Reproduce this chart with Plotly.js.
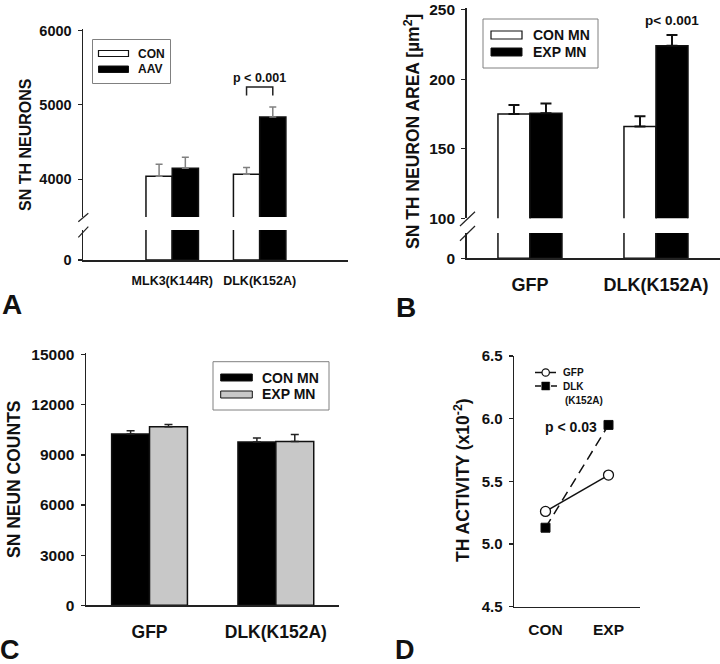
<!DOCTYPE html>
<html>
<head>
<meta charset="utf-8">
<script src="https://cdn.plot.ly/plotly-3.0.1.min.js"></script>
<style>html,body{margin:0;padding:0;background:#fff;}#chart{width:720px;height:664px;}</style>
</head>
<body>
<div id="chart"></div>
<script>
// ---------- DATA ----------
// Panel A
const A_groups = ['MLK3(K144R)', 'DLK(K152A)'];
const A_con = [4040, 4065];
const A_con_err = [160, 90];
const A_aav = [4145, 4835];
const A_aav_err = [150, 135];
const A_yticks = [0, 4000, 5000, 6000];
// Panel B
const B_groups = ['GFP', 'DLK(K152A)'];
const B_con = [175, 166];
const B_con_err = [6.5, 7.3];
const B_exp = [175.5, 224];
const B_exp_err = [7, 7.8];
const B_yticks = [0, 100, 150, 200, 250];
// Panel C
const C_groups = ['GFP', 'DLK(K152A)'];
const C_con = [10250, 9770];
const C_con_err = [200, 250];
const C_exp = [10680, 9800];
const C_exp_err = [140, 420];
const C_yticks = [0, 3000, 6000, 9000, 12000, 15000];
// Panel D
const D_groups = ['CON', 'EXP'];
const D_gfp = [5.26, 5.55];
const D_dlk = [5.13, 5.95];
const D_yticks = [4.5, 5.0, 5.5, 6.0, 6.5];

// ---------- HELPERS ----------
const W = 720, H = 664;
const px = x => x / W;
const py = y => 1 - y / H;
const FAM = 'Liberation Sans, Arial, Helvetica, sans-serif';
const INK = '#111111';
const AX = '#222222';
const f = (size) => ({family: FAM, size: size, color: INK, weight: 'bold'});
const zeros = n => new Array(n).fill(0);

function yAxis(domain, range, tickvals, size, extra) {
  return Object.assign({
    domain: domain, range: range, tickvals: tickvals,
    ticktext: tickvals.map(v => String(v)),
    showline: true, linecolor: AX, linewidth: 1.5,
    ticks: 'outside', ticklen: 4, tickwidth: 1.2, tickcolor: AX,
    showgrid: false, zeroline: false, tickfont: f(size),
    fixedrange: true, ticklabelstandoff: 3, ticklabeloverflow: 'allow'
  }, extra || {});
}
function xAxis(domain, range, size, anchor, standoff) {
  return {
    domain: domain, range: range, type: 'category', anchor: anchor,
    showline: true, linecolor: AX, linewidth: 1.5, ticks: '',
    showgrid: false, zeroline: false, tickfont: f(size),
    fixedrange: true, ticklabelstandoff: standoff, ticklabeloverflow: 'allow'
  };
}
function bar(x, y, err, xa, ya, color, off, w, errColor, errThick, errW, showErr) {
  return {
    type: 'bar', x: x, y: y, xaxis: xa, yaxis: ya,
    offset: off, width: w, showlegend: false, hoverinfo: 'skip',
    marker: {color: color, line: {color: INK, width: 1.5}},
    error_y: {type: 'data', symmetric: false, array: err, arrayminus: zeros(err.length),
      visible: showErr, color: errColor, thickness: errThick, width: errW}
  };
}

const data = [];
// Panel A (broken axis: lower y, upper y2)
const wA = 0.3;
['y', 'y2'].forEach(ya => {
  const up = ya === 'y2';
  data.push(bar(A_groups, A_con, A_con_err, 'x', ya, '#ffffff', -wA, wA, '#808080', 1.5, 3.5, up));
  data.push(bar(A_groups, A_aav, A_aav_err, 'x', ya, '#000000', 0, wA, '#808080', 1.5, 3.5, up));
});
// Panel B (lower y3, upper y4)
const wB = 0.254;
['y3', 'y4'].forEach(ya => {
  const up = ya === 'y4';
  data.push(bar(B_groups, B_con, B_con_err, 'x2', ya, '#ffffff', -wB, wB, '#111111', 2, 5.5, up));
  data.push(bar(B_groups, B_exp, B_exp_err, 'x2', ya, '#000000', 0, wB, '#111111', 2, 5.5, up));
});
// Panel C
const wC = 0.3;
data.push(bar(C_groups, C_con, C_con_err, 'x3', 'y5', '#000000', -wC, wC, '#222222', 1.5, 4, true));
data.push(bar(C_groups, C_exp, C_exp_err, 'x3', 'y5', '#c8c8c8', 0, wC, '#222222', 1.5, 4, true));
// Panel D
data.push({type: 'scatter', mode: 'lines+markers', x: D_groups, y: D_gfp, xaxis: 'x4', yaxis: 'y6',
  showlegend: false, hoverinfo: 'skip', cliponaxis: false,
  line: {color: INK, width: 1.5},
  marker: {symbol: 'circle', size: 10, color: '#ffffff', line: {color: INK, width: 1.3}}});
data.push({type: 'scatter', mode: 'lines+markers', x: D_groups, y: D_dlk, xaxis: 'x4', yaxis: 'y6',
  showlegend: false, hoverinfo: 'skip', cliponaxis: false,
  line: {color: INK, width: 1.5, dash: '10px,6px'},
  marker: {symbol: 'square', size: 9, color: '#000000', line: {color: INK, width: 1}}});

// ---------- SHAPES (axis breaks, brackets, legends) ----------
const shapes = [];
const pl = (x0, y0, x1, y1, extra) => shapes.push(Object.assign({type: 'line', xref: 'paper', yref: 'paper',
  x0: px(x0), y0: py(y0), x1: px(x1), y1: py(y1), line: {color: AX, width: 1.2}}, extra || {}));
const pr = (x0, y0, x1, y1, fill, lc, lw) => shapes.push({type: 'rect', xref: 'paper', yref: 'paper',
  x0: px(x0), y0: py(y0), x1: px(x1), y1: py(y1), fillcolor: fill, line: {color: lc, width: lw}});
// axis break marks
pl(78.3, 221.7, 88.3, 213.3); pl(78.3, 237.3, 88.3, 226.7);
pl(460, 226, 475, 211.7); pl(460, 240.7, 475, 226);
// significance bracket A
shapes.push({type: 'path', xref: 'x', yref: 'y2', path: 'M0.85,5125 L0.85,5238 L1.15,5238 L1.15,5125',
  line: {color: AX, width: 1.5}});
// legend A
pr(92.5, 39.5, 170.5, 83.5, 'rgba(0,0,0,0)', '#808080', 1);
pr(98.5, 50.5, 128.5, 56.5, '#ffffff', INK, 1.2);
pr(98.5, 66, 128.5, 72.5, '#000000', INK, 1);
// legend B
pr(483, 19, 598, 68, 'rgba(0,0,0,0)', '#808080', 1);
pr(491, 31, 522, 39, '#ffffff', INK, 1.2);
pr(491, 48, 522, 56, '#000000', INK, 1);
// legend C
pr(213, 361.7, 329, 410, 'rgba(0,0,0,0)', '#808080', 1);
pr(220.7, 374, 252.3, 381, '#000000', INK, 1);
pr(220.7, 391, 252.3, 398, '#c8c8c8', INK, 1);
// legend D
pl(535, 372.5, 556, 372.5, {line: {color: INK, width: 1.5}});
shapes.push({type: 'circle', xref: 'paper', yref: 'paper', x0: px(542), x1: px(549.4), y0: py(376.2), y1: py(368.8),
  fillcolor: '#ffffff', line: {color: INK, width: 1.2}});
pl(535, 386, 541, 386, {line: {color: INK, width: 1.5}});
pl(551, 386, 557, 386, {line: {color: INK, width: 1.5}});
pr(541.7, 382, 549.7, 390, '#000000', INK, 0.5);

// ---------- ANNOTATIONS ----------
const ann = [];
const pt = (text, x, y, size, extra) => ann.push(Object.assign({text: text, xref: 'paper', yref: 'paper',
  x: px(x), y: py(y), showarrow: false, font: f(size), xanchor: 'center', yanchor: 'middle'}, extra || {}));
// panel letters
pt('A', 11.7, 305, 28); pt('B', 405.5, 307.5, 28); pt('C', 10, 650, 27); pt('D', 405, 650, 27);
// y-axis titles
pt('SN TH NEURONS', 25, 145, 16, {textangle: -90});
pt('SN TH NEURON AREA [µm<sup>2</sup>]', 412, 132, 17.5, {textangle: -90});
pt('SN NEUN COUNTS', 14, 479, 17.5, {textangle: -90});
pt('TH ACTIVITY (x10<sup>-2</sup>)', 462, 480, 17.5, {textangle: -90});
// legend texts
pt('CON', 136, 53.5, 12, {xanchor: 'left'}); pt('AAV', 136, 69.5, 12, {xanchor: 'left'});
pt('CON MN', 531, 35, 14, {xanchor: 'left'}); pt('EXP MN', 531, 52, 14, {xanchor: 'left'});
pt('CON MN', 260, 377.5, 14, {xanchor: 'left'}); pt('EXP MN', 260, 394.5, 14, {xanchor: 'left'});
pt('GFP', 561, 372.5, 10, {xanchor: 'left'}); pt('DLK', 561, 386, 10, {xanchor: 'left'});
pt('(K152A)', 563, 400.5, 10, {xanchor: 'left'});
// p-values (data coordinates)
ann.push({text: 'p < 0.001', xref: 'x', yref: 'y2', x: 1, y: 5359, showarrow: false, font: f(12.5)});
ann.push({text: 'p< 0.001', xref: 'x2', yref: 'y4', x: 1.127, y: 241.9, showarrow: false, font: f(13.5)});
ann.push({text: 'p < 0.03', xref: 'x4', yref: 'y6', x: 0.403, y: 5.936, showarrow: false, font: f(14)});

// ---------- LAYOUT ----------
const layout = {
  width: W, height: H, margin: {l: 0, r: 0, t: 0, b: 0, pad: 0},
  paper_bgcolor: '#ffffff', plot_bgcolor: 'rgba(0,0,0,0)',
  font: {family: FAM, color: INK, weight: 'bold'},
  barmode: 'overlay', showlegend: false,
  // A
  xaxis: xAxis([px(83), px(348)], [-1.02, 2.01], 12.5, 'y', 8),
  yaxis: yAxis([py(260), py(230)], [0, 400], A_yticks.slice(0, 1), 14.5, {anchor: 'x'}),
  yaxis2: yAxis([py(217), py(29)], [3490, 6020], A_yticks.slice(1), 14.5, {anchor: 'x'}),
  // B
  xaxis2: xAxis([px(466.7), px(720)], [-0.502, 1.508], 18, 'y3', 10),
  yaxis3: yAxis([py(258.3), py(233)], [0, 100], B_yticks.slice(0, 1), 15.5, {anchor: 'x2'}),
  yaxis4: yAxis([py(218.3), py(8)], [100, 251.2], B_yticks.slice(1), 15.5, {anchor: 'x2'}),
  // C
  xaxis3: xAxis([px(86), px(339)], [-0.503, 1.5], 17.5, 'y5', 10),
  yaxis5: yAxis([py(605.3), py(353)], [0, 15100], C_yticks, 15.5, {anchor: 'x3'}),
  // D
  xaxis4: xAxis([px(514), px(640)], [-0.5, 1.5], 15.5, 'y6', 8),
  yaxis6: yAxis([py(606.7), py(356)], [4.5, 6.5], D_yticks, 15, {anchor: 'x4', ticktext: D_yticks.map(v => v.toFixed(1))}),
  shapes: shapes, annotations: ann
};

Plotly.newPlot('chart', data, layout, {staticPlot: true, displayModeBar: false});
</script>
</body>
</html>
